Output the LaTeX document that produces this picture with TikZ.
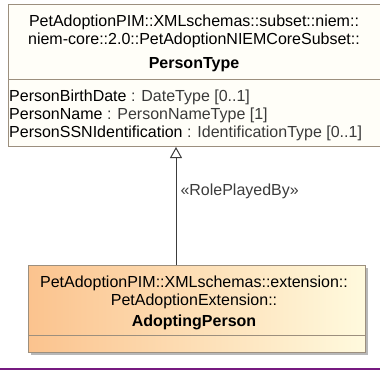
\documentclass[tikz,border=0pt]{standalone}
\usepackage{fontspec}
\setmainfont{Liberation Sans}
\usetikzlibrary{arrows.meta,positioning}
\definecolor{umlborder}{HTML}{9C8F7E}
\definecolor{umlfill}{HTML}{FFFEF8}
\definecolor{orangeleft}{HTML}{FBC38E}
\definecolor{orangeright}{HTML}{FFFADE}
\definecolor{shadowgray}{HTML}{B8B8B8}
\definecolor{typegray}{HTML}{3A3A3A}
\definecolor{linegray}{HTML}{3C3C3C}
\definecolor{purplebar}{HTML}{761A80}
\tikzset{every node/.append style={font=\fontsize{16}{18}\selectfont,inner sep=0pt}}
\tikzset{classbox/.style={draw=umlborder,line width=1pt,anchor=north west}}

\begin{document}
\begin{tikzpicture}[x=1pt,y=-1pt,>=Stealth]
\useasboundingbox (0,0) rectangle (380,370);
\clip (0,0) rectangle (380,370);
% PersonType
\node[classbox,fill=umlfill,minimum width=378pt,minimum height=142pt] (persontype) at (8,4) {};
\draw[umlborder,line width=1pt] (8,79) -- (386,79);
\node[anchor=base] (ptpkga) at (194,26) {PetAdoptionPIM::XMLschemas::subset::niem::};
\node[anchor=base] (ptpkgb) at (194,44) {niem-core::2.0::PetAdoptionNIEMCoreSubset::};
\node[anchor=base,font=\fontsize{16}{18}\selectfont\bfseries] (ptname) at (194,68) {PersonType};
\node[anchor=base west] (ptattra) at (9,101) {PersonBirthDate \textcolor{typegray}{: DateType [0..1]}};
\node[anchor=base west] (ptattrb) at (9,119) {PersonName \textcolor{typegray}{: PersonNameType [1]}};
\node[anchor=base west] (ptattrc) at (9,137) {PersonSSNIdentification \textcolor{typegray}{: IdentificationType [0..1]}};
% AdoptingPerson
\fill[shadowgray] (31,268) rectangle (368,355);
\node[classbox,left color=orangeleft,right color=orangeright,minimum width=337pt,minimum height=87pt] (adopting) at (28,265) {};
\draw[umlborder,line width=1pt] (28,335) -- (365,335);
\node[anchor=base] (appkga) at (194,287) {PetAdoptionPIM::XMLschemas::extension::};
\node[anchor=base] (appkgb) at (194,305) {PetAdoptionExtension::};
\node[anchor=base,font=\fontsize{16}{18}\selectfont\bfseries] (apname) at (194,326) {AdoptingPerson};
% realization
\coordinate (rolex) at (176,0);
\draw[-{Triangle[open,width=12pt,length=11pt]},linegray,line width=1pt] (adopting.north -| rolex) -- (persontype.south -| rolex)
  node[pos=0.62,right=4pt] (rolelabel) {«RolePlayedBy»};
\draw[purplebar,line width=2pt] (0,368.5) -- (380,368.5);
\end{tikzpicture}
\end{document}
